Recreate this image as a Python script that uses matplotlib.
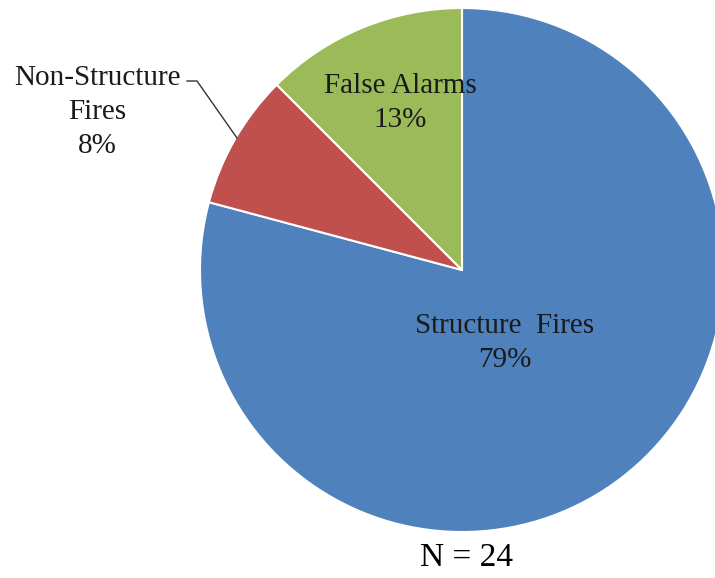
import matplotlib.pyplot as plt

# data
labels = ["Structure  Fires", "Non-Structure\nFires", "False Alarms"]
counts = [19, 2, 3]
colors = ["#4F81BD", "#C0504D", "#9BBB59"]
total = sum(counts)

plt.rcParams['font.family'] = ['Liberation Serif', 'DejaVu Serif']

fig = plt.figure(figsize=(7.15, 5.78), dpi=100)
ax = fig.add_axes([0, 0, 1, 1])

cx, cy, r = 462, 308, 262
wedges, _ = ax.pie(counts, colors=colors, startangle=90, counterclock=False,
                   center=(cx, cy), radius=r, frame=True,
                   wedgeprops=dict(edgecolor='white', linewidth=1.5))
ax.set_xlim(0, 715)
ax.set_ylim(0, 578)
ax.set_aspect('equal')
ax.axis('off')

pct = [f"{int(c / total * 100 + 0.5)}%" for c in counts]

txt = dict(ha='center', va='center', fontsize=21, color='#1a1a1a', linespacing=1.4)
ax.text(505, 235, f"{labels[0]}\n{pct[0]}", **txt)
ax.text(400, 475, f"{labels[2]}\n{pct[2]}", **txt)
ax.text(97, 466, f"{labels[1]}\n{pct[1]}", **txt)

# leader line for the small slice
ax.plot([187, 197, 237], [497, 497, 440], color='#333333', linewidth=1)

ax.text(467, 20, f"N = {total}", ha='center', va='center', fontsize=24)

fig.savefig("out.png", dpi=100)
